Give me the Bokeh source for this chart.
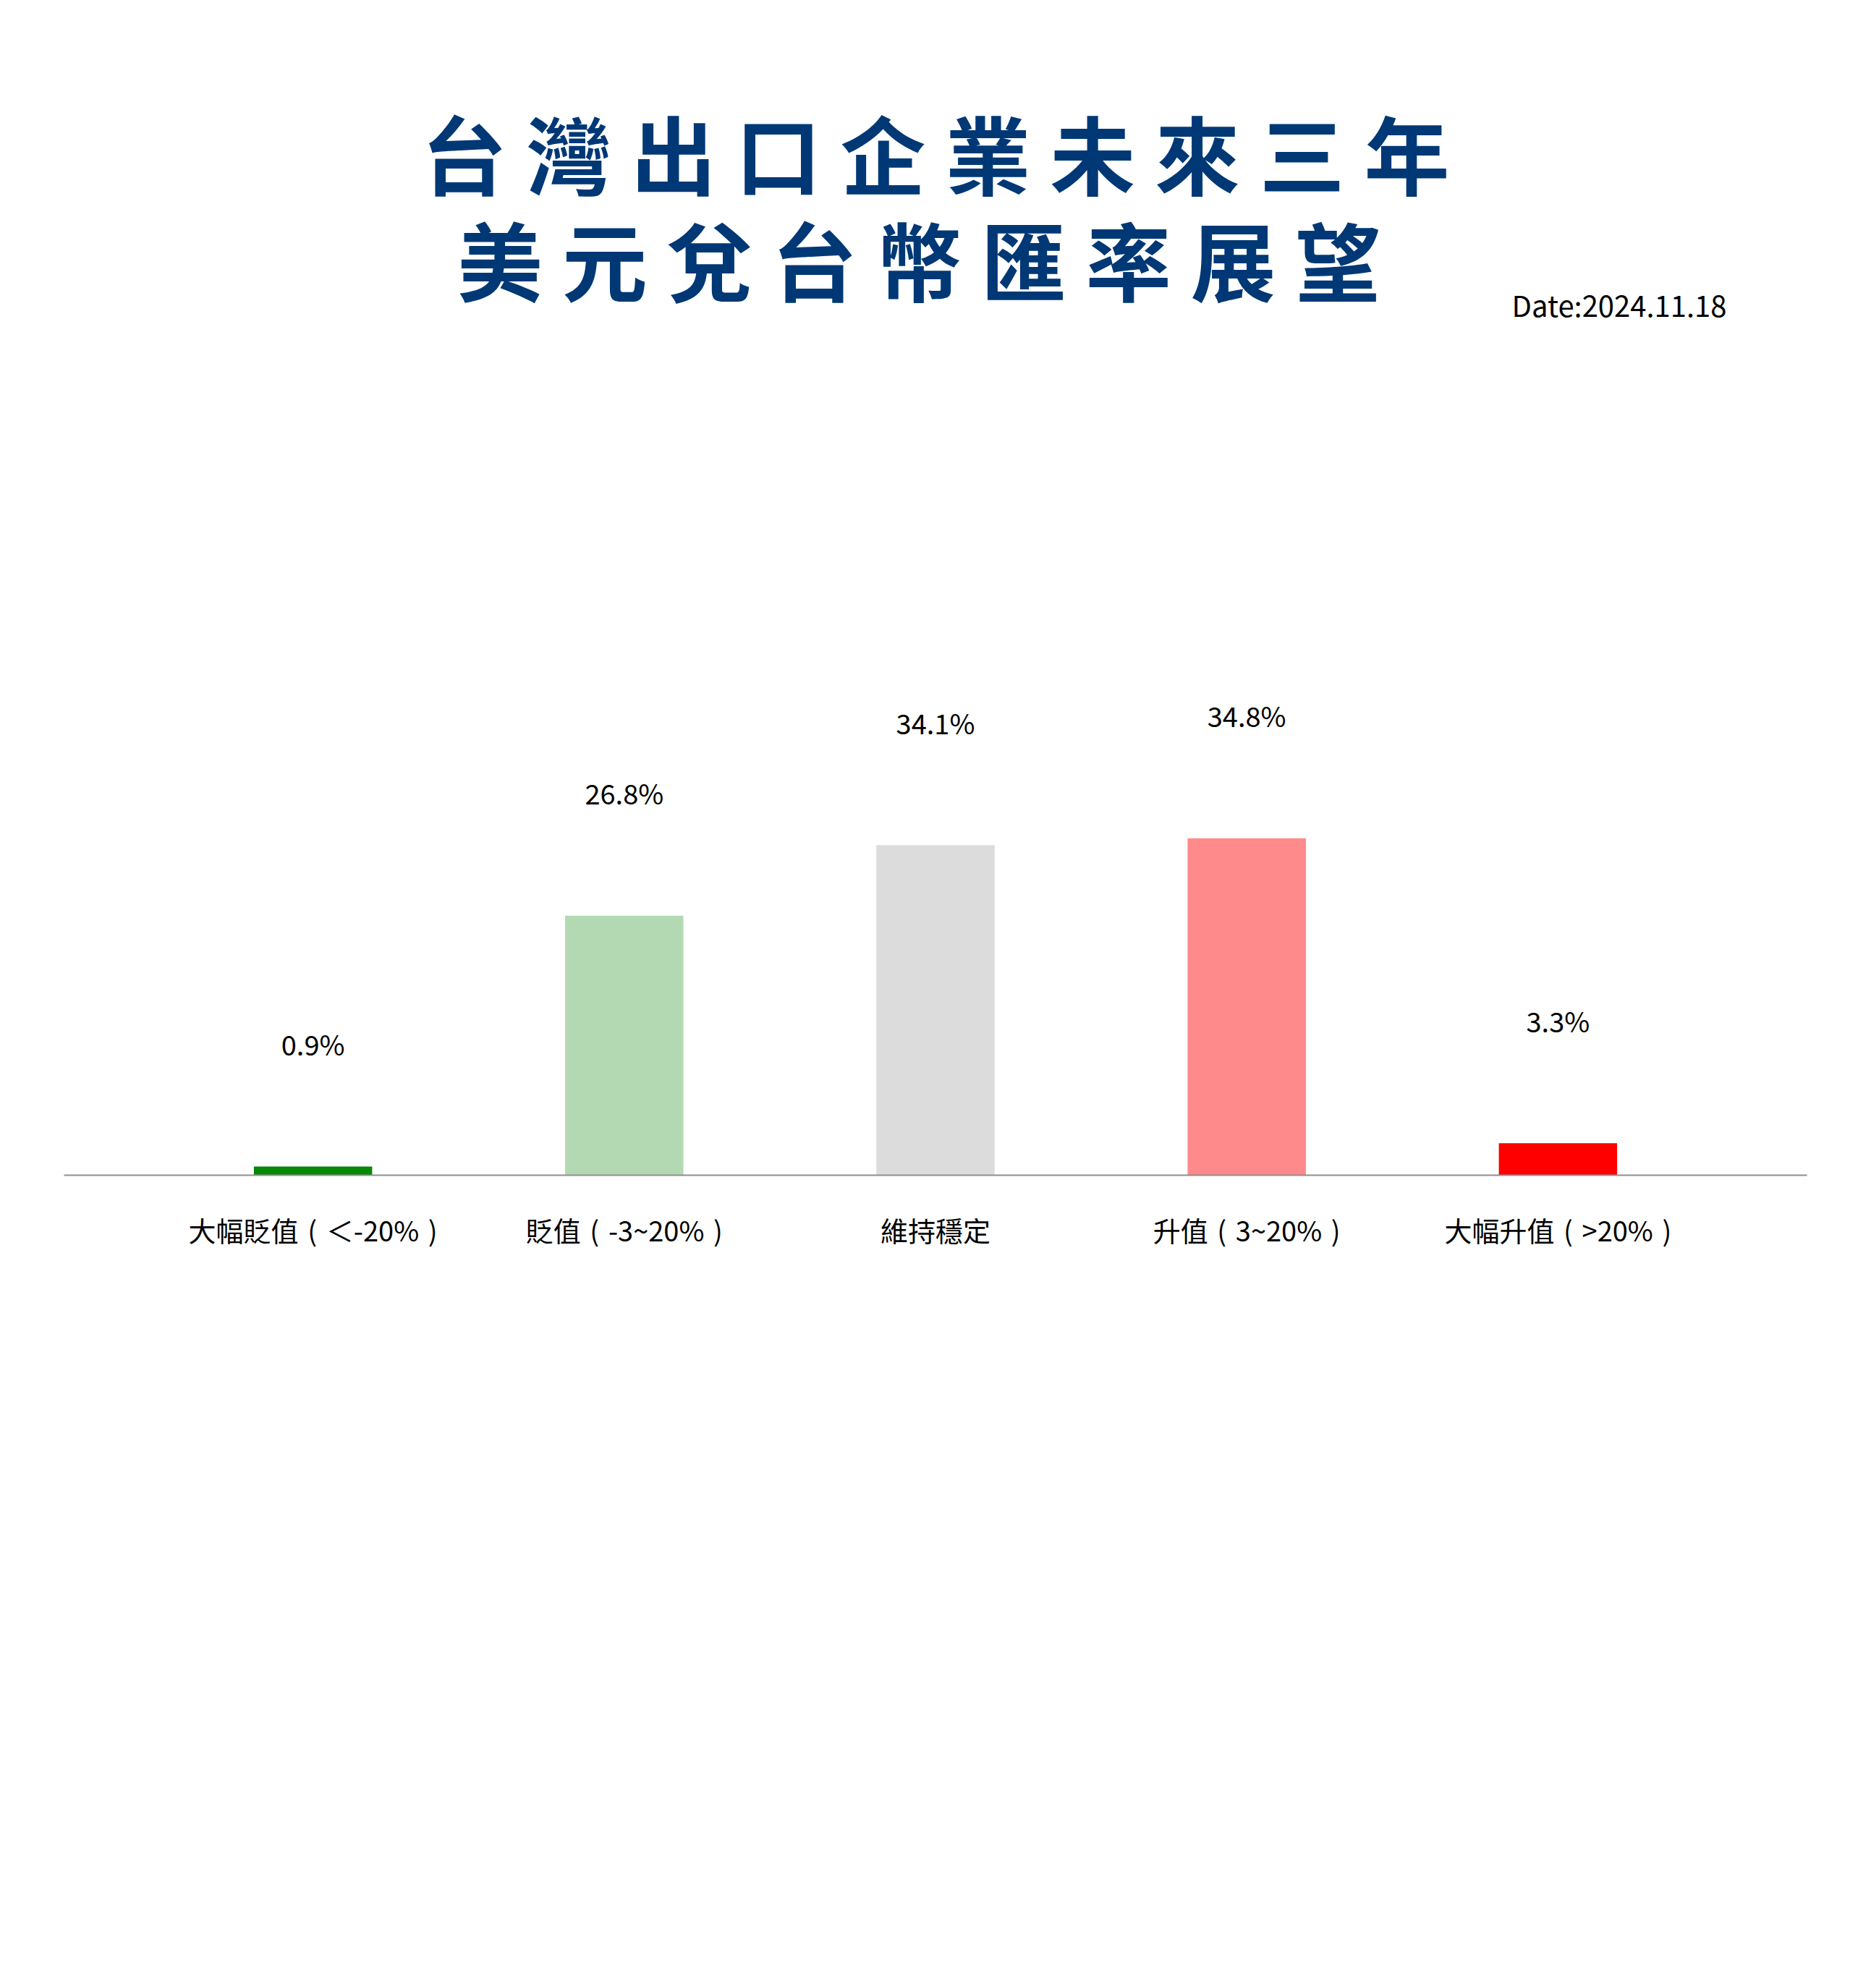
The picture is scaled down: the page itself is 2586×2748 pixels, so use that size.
from bokeh.plotting import figure
from bokeh.models import Range1d, FixedTicker, Label, ColumnDataSource
from bokeh.core.properties import value
from bokeh.embed import file_html
from bokeh.resources import INLINE

# ---- data ----
SP = "\u2004"
categories = ["大幅貶值" + SP + "(" + SP + "＜-20%" + SP + ")",
              "貶值" + SP + "(" + SP + "-3~20%" + SP + ")",
              "維持穩定",
              "升值" + SP + "(" + SP + "3~20%" + SP + ")",
              "大幅升值" + SP + "(" + SP + ">20%" + SP + ")"]
values = [0.9, 26.8, 34.1, 34.8, 3.3]
value_labels = ["0.9%", "26.8%", "34.1%", "34.8%", "3.3%"]
colors = ["#058805", "#b2d9b2", "#dcdcdc", "#ff8a8c", "#ff0000"]
title_lines = ["台 灣 出 口 企 業 未 來 三 年", "美 元 兌 台 幣 匯 率 展 望"]
date_text = "Date:2024.11.18"

FONT = "Noto Sans CJK TC"
xs = list(range(len(categories)))

p = figure(width=2570, height=2730, output_backend="svg", toolbar_location=None,
           x_range=Range1d(-0.8, 4.8), y_range=Range1d(0, 120.6),
           min_border_left=88, min_border_right=73, min_border_top=10,
           min_border_bottom=1106)
p.outline_line_color = None
p.grid.visible = False
p.yaxis.visible = False
p.background_fill_color = "white"
p.border_fill_color = "white"

src = ColumnDataSource(dict(x=xs, top=values, color=colors,
                            ly=[v + 12.7 for v in values], lab=value_labels))
p.vbar(x="x", top="top", bottom=0, width=0.38, color="color", line_color=None, source=src)
p.text(x="x", y="ly", text="lab", source=src, text_align="center", text_baseline="middle",
       text_font=value(FONT), text_font_size="38px", text_color="#000000")

ax = p.xaxis[0]
ax.ticker = FixedTicker(ticks=xs)
ax.major_label_overrides = {i: c for i, c in zip(xs, categories)}
ax.major_tick_line_color = None
ax.minor_tick_line_color = None
ax.axis_line_color = "#8f8f8f"
ax.axis_line_width = 2
ax.major_label_standoff = 41
ax.major_label_text_font = FONT
ax.major_label_text_font_size = "38px"
ax.major_label_text_color = "#000000"

for line, xx, yy in zip(title_lines, [2.0, 1.947], [105.75, 94.75]):
    p.add_layout(Label(x=xx, y=yy, text=line, text_align="center", text_baseline="middle",
                       text_font=FONT, text_font_size="118px", text_font_style="bold",
                       text_color="#003876"))
p.add_layout(Label(x=4.542, y=89.9, text=date_text, text_align="right", text_baseline="middle",
                   text_font=FONT, text_font_size="40px", text_color="#000000"))

open("out.html", "w").write(file_html(p, INLINE))
